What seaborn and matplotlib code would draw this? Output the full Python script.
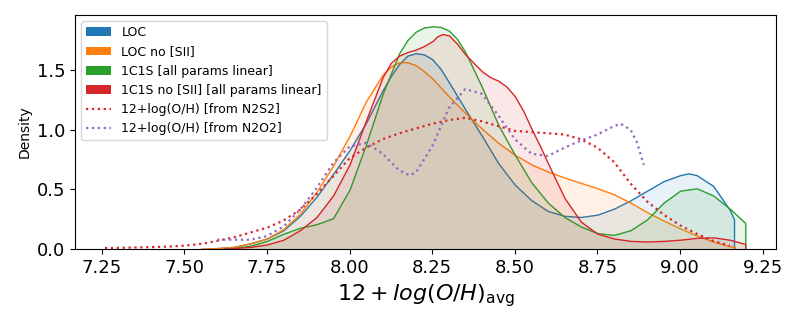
import numpy as np
import pandas as pd
import matplotlib
matplotlib.use("Agg")
import matplotlib.pyplot as plt
import seaborn as sns
from matplotlib.patches import Patch
from matplotlib.lines import Line2D

# density curves (x = 12+log(O/H), y = density)
loc_x = [7.55, 7.60, 7.65, 7.70, 7.75, 7.80, 7.85, 7.90, 7.95, 8.00, 8.05, 8.10, 8.125, 8.15,
         8.175, 8.20, 8.225, 8.25, 8.275, 8.30, 8.35, 8.40, 8.45, 8.50, 8.55, 8.60, 8.65,
         8.70, 8.75, 8.80, 8.85, 8.90, 8.95, 9.00, 9.025, 9.05, 9.10, 9.15, 9.163]
loc_y = [0.003, 0.01, 0.02, 0.05, 0.09, 0.16, 0.28, 0.44, 0.63, 0.83, 1.06, 1.33, 1.45, 1.55,
         1.62, 1.64, 1.63, 1.59, 1.51, 1.40, 1.17, 0.95, 0.72, 0.54, 0.41, 0.32, 0.28,
         0.27, 0.29, 0.34, 0.41, 0.49, 0.57, 0.62, 0.635, 0.62, 0.53, 0.33, 0.25]

loc_nosii_x = [7.55, 7.60, 7.65, 7.70, 7.75, 7.80, 7.85, 7.90, 7.95, 8.00, 8.05, 8.10, 8.125,
               8.15, 8.175, 8.20, 8.225, 8.25, 8.30, 8.35, 8.40, 8.45, 8.50, 8.55, 8.60, 8.65,
               8.70, 8.75, 8.80, 8.85, 8.90, 8.95, 9.00, 9.05, 9.10, 9.15, 9.165]
loc_nosii_y = [0.005, 0.01, 0.02, 0.05, 0.09, 0.17, 0.30, 0.48, 0.70, 0.95, 1.24, 1.46, 1.53,
               1.565, 1.565, 1.54, 1.49, 1.43, 1.28, 1.14, 1.01, 0.89, 0.79, 0.71, 0.65, 0.60,
               0.555, 0.51, 0.46, 0.39, 0.31, 0.24, 0.175, 0.115, 0.065, 0.025, 0.02]

c1s_x = [7.62, 7.65, 7.70, 7.75, 7.80, 7.85, 7.90, 7.95, 8.00, 8.05, 8.10, 8.15, 8.175, 8.20,
         8.225, 8.25, 8.275, 8.30, 8.325, 8.35, 8.40, 8.45, 8.50, 8.55, 8.60, 8.65, 8.70,
         8.75, 8.80, 8.85, 8.90, 8.95, 9.00, 9.05, 9.10, 9.15, 9.197]
c1s_y = [0.005, 0.01, 0.03, 0.07, 0.13, 0.18, 0.21, 0.26, 0.50, 0.88, 1.30, 1.64, 1.75, 1.82,
         1.855, 1.865, 1.86, 1.83, 1.76, 1.65, 1.36, 1.04, 0.79, 0.56, 0.39, 0.27, 0.19,
         0.135, 0.12, 0.16, 0.25, 0.39, 0.49, 0.51, 0.45, 0.34, 0.22]

c1s_nosii_x = [7.62, 7.65, 7.70, 7.75, 7.80, 7.85, 7.90, 7.95, 8.00, 8.05, 8.10, 8.125, 8.15,
               8.175, 8.20, 8.225, 8.25, 8.265, 8.28, 8.30, 8.325, 8.35, 8.40, 8.425, 8.45,
               8.475, 8.50, 8.525, 8.55, 8.575, 8.60, 8.65, 8.70, 8.75, 8.80, 8.85, 8.90,
               8.95, 9.00, 9.05, 9.10, 9.15, 9.197]
c1s_nosii_y = [0.005, 0.01, 0.02, 0.04, 0.08, 0.16, 0.27, 0.45, 0.71, 1.08, 1.44, 1.56, 1.62,
               1.65, 1.67, 1.70, 1.74, 1.78, 1.80, 1.79, 1.72, 1.63, 1.49, 1.44, 1.41,
               1.36, 1.28, 1.16, 1.01, 0.87, 0.72, 0.43, 0.23, 0.13, 0.09, 0.07, 0.065,
               0.07, 0.08, 0.095, 0.10, 0.08, 0.044]

n2s2_x = [7.26, 7.30, 7.35, 7.40, 7.45, 7.50, 7.55, 7.60, 7.65, 7.70, 7.75, 7.80, 7.85, 7.90,
          7.95, 8.00, 8.05, 8.10, 8.15, 8.20, 8.25, 8.30, 8.35, 8.40, 8.45, 8.50, 8.55, 8.60,
          8.65, 8.70, 8.75, 8.80, 8.85, 8.90, 8.95, 9.00, 9.05, 9.10, 9.15]
n2s2_y = [0.01, 0.012, 0.015, 0.018, 0.022, 0.03, 0.045, 0.07, 0.10, 0.14, 0.18, 0.24, 0.33,
          0.46, 0.61, 0.76, 0.85, 0.92, 0.97, 1.01, 1.05, 1.08, 1.10, 1.07, 1.03, 0.99, 0.98,
          0.97, 0.96, 0.92, 0.85, 0.73, 0.55, 0.40, 0.29, 0.20, 0.13, 0.07, 0.03]

n2o2_x = [7.60, 7.65, 7.70, 7.75, 7.80, 7.85, 7.90, 7.95, 8.00, 8.05, 8.10, 8.15, 8.18, 8.20,
          8.25, 8.30, 8.35, 8.40, 8.45, 8.50, 8.55, 8.60, 8.65, 8.70, 8.75, 8.80, 8.82, 8.85,
          8.87, 8.89]
n2o2_y = [0.08, 0.08, 0.08, 0.11, 0.19, 0.33, 0.51, 0.72, 0.86, 0.89, 0.80, 0.66, 0.62, 0.64,
          0.86, 1.18, 1.34, 1.30, 1.12, 0.92, 0.80, 0.78, 0.85, 0.91, 0.96, 1.03, 1.05, 1.00,
          0.89, 0.705]

filled = [
    ("LOC", loc_x, loc_y, "tab:blue"),
    ("LOC no [SII]", loc_nosii_x, loc_nosii_y, "tab:orange"),
    ("1C1S [all params linear]", c1s_x, c1s_y, "tab:green"),
    ("1C1S no [SII] [all params linear]", c1s_nosii_x, c1s_nosii_y, "tab:red"),
]
dotted = [
    ("12+log(O/H) [from N2S2]", n2s2_x, n2s2_y, "tab:red"),
    ("12+log(O/H) [from N2O2]", n2o2_x, n2o2_y, "tab:purple"),
]

fig, ax = plt.subplots(figsize=(8, 3.25), dpi=100)
fig.subplots_adjust(left=0.094, right=0.97, top=0.954, bottom=0.233)

handles = []
for label, xs, ys, color in filled:
    ax.fill_between(xs, 0, ys, facecolor=matplotlib.colors.to_rgba(color, 0.1),
                    edgecolor=color, linewidth=1)
    handles.append(Patch(facecolor=color, label=label))

for label, xs, ys, color in dotted:
    df = pd.DataFrame({"x": xs, "y": ys})
    sns.lineplot(data=df, x="x", y="y", ax=ax, color=color, linestyle=":", linewidth=1.6)
    handles.append(Line2D([0], [0], color=color, linestyle=":", linewidth=1.6, label=label))

ax.set_xlim(7.17, 9.29)
ax.set_ylim(0, 1.96)
ax.set_xticks(np.arange(7.25, 9.26, 0.25))
ax.set_yticks([0.0, 0.5, 1.0, 1.5])
ax.tick_params(axis="both", labelsize=13)
ax.set_xlabel(r"$12 + log(O/H)_{\rm avg}$", fontsize=16)
ax.set_ylabel("Density", fontsize=10)
ax.legend(handles=handles, loc="upper left", fontsize=9)

fig.savefig("out.png", dpi=100)
